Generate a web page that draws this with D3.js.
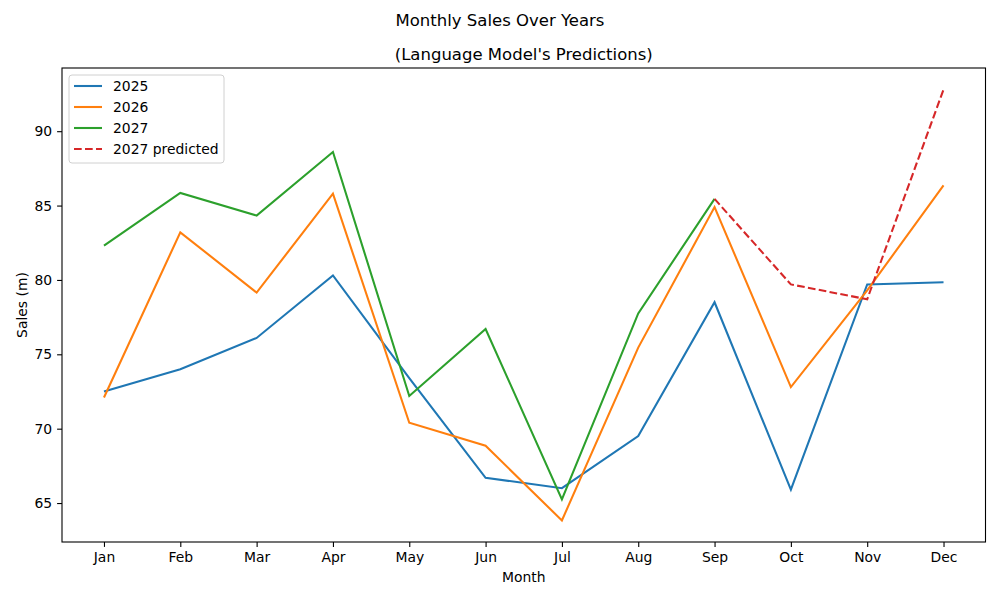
<!DOCTYPE html>
<html>
<head>
<meta charset="utf-8">
<script src="https://cdn.jsdelivr.net/npm/d3@7"></script>
<style>
  body { margin: 0; background: #fff; }
  svg { font-family: "DejaVu Sans", sans-serif; }
</style>
</head>
<body>
<svg id="chart" width="1000" height="600"></svg>
<script>
// Dados
const months = ["Jan", "Feb", "Mar", "Apr", "May", "Jun", "Jul", "Aug", "Sep", "Oct", "Nov", "Dec"];
const sales2025 = [72.5, 74.0, 76.1, 80.3, 73.4, 66.7, 66.0, 69.5, 78.5, 65.9, 79.7, 79.85];
const sales2026 = [72.1, 83.2, 79.15, 85.8, 70.4, 68.85, 63.83, 75.45, 84.9, 72.8, 79.3, 86.35];
const sales2027 = [82.3, 85.85, 84.33, 88.6, 72.2, 76.7, 65.25, 77.75, 85.45];
const predMonths = ["Sep", "Oct", "Nov", "Dec"];
const pred2027 = [85.45, 79.7, 78.7, 92.8];
const yTicks = [65, 70, 75, 80, 85, 90];

const series = [
    { name: "2025", color: "#1f77b4", dash: null, months: months, values: sales2025 },
    { name: "2026", color: "#ff7f0e", dash: null, months: months, values: sales2026 },
    { name: "2027", color: "#2ca02c", dash: null, months: months.slice(0, sales2027.length), values: sales2027 },
    { name: "2027 predicted", color: "#d62728", dash: "7.7,3.3", months: predMonths, values: pred2027 }
];

const width = 1000;
const height = 600;
const margin = { left: 62, right: 14.5, top: 68, bottom: 58 };
const plotW = width - margin.left - margin.right;
const plotH = height - margin.top - margin.bottom;

const svg = d3.select("#chart");

// Escalas com margem de 5% como o matplotlib
const x = d3.scaleLinear()
    .domain([-0.55, months.length - 1 + 0.55])
    .range([margin.left, margin.left + plotW]);

const allVals = [].concat(sales2025, sales2026, sales2027, pred2027);
const yMin = d3.min(allVals), yMax = d3.max(allVals);
const pad = (yMax - yMin) * 0.05;
const y = d3.scaleLinear()
    .domain([yMin - pad, yMax + pad])
    .range([margin.top + plotH, margin.top]);

// Títulos
svg.append("text")
    .attr("x", width / 2).attr("y", 26)
    .attr("text-anchor", "middle")
    .attr("font-size", 16.5)
    .text("Monthly Sales Over Years");

svg.append("text")
    .attr("x", margin.left + plotW / 2).attr("y", 60)
    .attr("text-anchor", "middle")
    .attr("font-size", 16.5)
    .text("(Language Model's Predictions)");

// Eixos
const xAxis = d3.axisBottom(x)
    .tickValues(d3.range(months.length))
    .tickFormat(i => months[i])
    .tickSizeOuter(0)
    .tickSize(4.9)
    .tickPadding(4.9);

const yAxis = d3.axisLeft(y)
    .tickValues(yTicks)
    .tickSizeOuter(0)
    .tickSize(4.9)
    .tickPadding(4.9);

const gx = svg.append("g")
    .attr("transform", `translate(0,${margin.top + plotH})`)
    .call(xAxis);

const gy = svg.append("g")
    .attr("transform", `translate(${margin.left},0)`)
    .call(yAxis);

[gx, gy].forEach(g => {
    g.select(".domain").remove();
    g.selectAll(".tick line").attr("stroke", "#000").attr("stroke-width", 1.1);
    g.selectAll(".tick text")
        .attr("font-size", 13.9)
        .attr("fill", "#000")
        .attr("font-family", "DejaVu Sans, sans-serif");
});

svg.append("text")
    .attr("x", margin.left + plotW / 2).attr("y", 582)
    .attr("text-anchor", "middle")
    .attr("font-size", 13.9)
    .text("Month");

svg.append("text")
    .attr("transform", `translate(27,${margin.top + plotH / 2}) rotate(-90)`)
    .attr("text-anchor", "middle")
    .attr("font-size", 13.9)
    .text("Sales (m)");

// Linhas
const line = d3.line()
    .x(d => x(months.indexOf(d.m)))
    .y(d => y(d.v));

series.forEach(s => {
    const pts = s.values.map((v, i) => ({ m: s.months[i], v: v }));
    svg.append("path")
        .datum(pts)
        .attr("fill", "none")
        .attr("stroke", s.color)
        .attr("stroke-width", 2.08)
        .attr("stroke-dasharray", s.dash)
        .attr("d", line);
});

// Moldura
svg.append("rect")
    .attr("x", margin.left).attr("y", margin.top)
    .attr("width", plotW).attr("height", plotH)
    .attr("fill", "none")
    .attr("stroke", "#000")
    .attr("stroke-width", 1.1);

// Legenda
const legend = svg.append("g").attr("transform", "translate(69,75)");
legend.append("rect")
    .attr("width", 155).attr("height", 88)
    .attr("rx", 3)
    .attr("fill", "#fff").attr("fill-opacity", 0.8)
    .attr("stroke", "#d0d0d0");

series.forEach((s, i) => {
    const yy = 11 + i * 21;
    legend.append("line")
        .attr("x1", 5).attr("x2", 33)
        .attr("y1", yy).attr("y2", yy)
        .attr("stroke", s.color)
        .attr("stroke-width", 2.08)
        .attr("stroke-dasharray", s.dash);
    legend.append("text")
        .attr("x", 44).attr("y", yy + 5)
        .attr("font-size", 13.9)
        .text(s.name);
});
</script>
</body>
</html>
